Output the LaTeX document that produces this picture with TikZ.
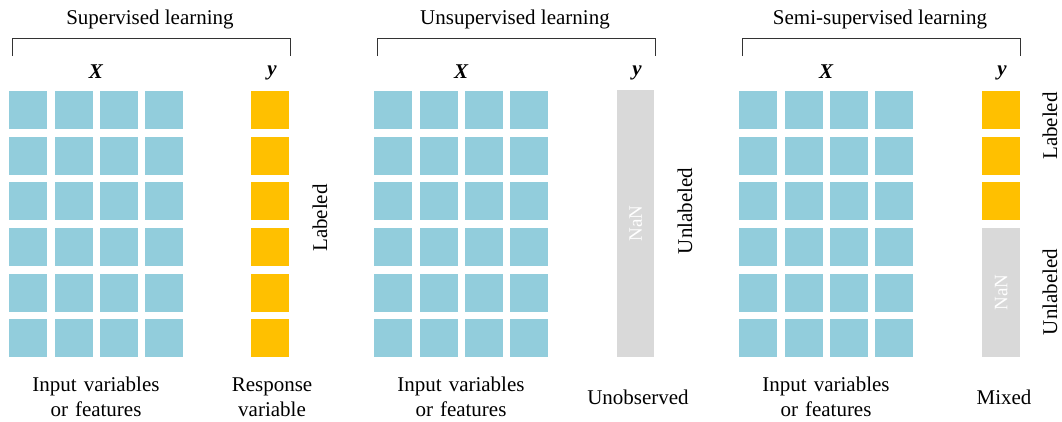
\documentclass[tikz,border=0pt]{standalone}
\usepackage{fontspec}
\setmainfont{Liberation Serif}
\begin{document}
\begin{tikzpicture}[x=1pt,y=-1pt,
  cellX/.style={fill=featblue,draw=none,minimum width=38pt,minimum height=38pt,inner sep=0pt,anchor=north west},
  cellY/.style={fill=labgold,draw=none,minimum width=38pt,minimum height=38pt,inner sep=0pt,anchor=north west},
  nanbar/.style={fill=nangray,draw=none,minimum width=37pt,inner sep=0pt,anchor=north west},
  nantext/.style={text=white,rotate=90,font=\fontsize{19}{19}\selectfont},
  head/.style={font=\fontsize{21}{21}\selectfont},
  var/.style={font=\fontsize{21}{21}\selectfont\bfseries\itshape},
  side/.style={rotate=90,font=\fontsize{21}{21}\selectfont},
  foot/.style={font=\fontsize{21}{25}\selectfont,align=center,text width=200pt},
  brace/.style={draw=black!80,line width=0.8pt}]
\definecolor{featblue}{HTML}{92CDDC}
\definecolor{labgold}{HTML}{FFC000}
\definecolor{nangray}{HTML}{D9D9D9}
\useasboundingbox (0,0) rectangle (1062,421);

% feature matrices: 6 rows x 4 columns in each panel
\foreach \p/\off in {a/0,b/365,c/730}{
  \foreach \r in {0,...,5}{
    \foreach \c in {0,...,3}{
      \node[cellX] (\p x\r\c) at ({9+\off+\c*45.3},{91+\r*45.6}) {};
    }
  }
}

% panel 1: fully labeled response
\foreach \r in {0,...,5}{
  \node[cellY] (ay\r) at (251,{91+\r*45.6}) {};
}
% panel 2: unobserved response
\node[nanbar,minimum height=267pt] (bnan) at (617,90) {};
\node[nantext] (bnant) at (bnan.center) {NaN};
% panel 3: mixed response
\foreach \r in {0,...,2}{
  \node[cellY] (cy\r) at (982,{91+\r*45.6}) {};
}
\node[nanbar,minimum height=129pt,minimum width=38pt] (cnan) at (982,228) {};
\node[nantext] (cnant) at (cnan.center) {NaN};

% headings and brackets
\foreach \p/\off/\t in {a/0/Supervised learning,b/365/Unsupervised learning,c/730/Semi-supervised learning}{
  \node[head] (\p head) at ({150+\off},19) {\t};
  \coordinate (\p bl) at ({12+\off},56);
  \coordinate (\p br) at ({290+\off},56);
  \draw[brace] (\p bl) -- ++(0,-18) -| (\p br);
  \node[var] (\p X) at ({96+\off},72) {X};
  \node[var] (\p Y) at ({272+\off},73) {y};
  \node[foot] (\p foot) at ({96+\off},397) {Input variables\\or features};
}

% side labels
\node[side] (alab) at (320,218) {Labeled};
\node[side] (blab) at (685,211) {Unlabeled};
\node[side] (clab) at (1050,126) {Labeled};
\node[side] (cunl) at (1050,292) {Unlabeled};

% response captions
\node[foot] (aresp) at (272,397) {Response\\variable};
\node[foot] (bresp) at (638,397) {Unobserved};
\node[foot] (cresp) at (1004,397) {Mixed};
\end{tikzpicture}
\end{document}
